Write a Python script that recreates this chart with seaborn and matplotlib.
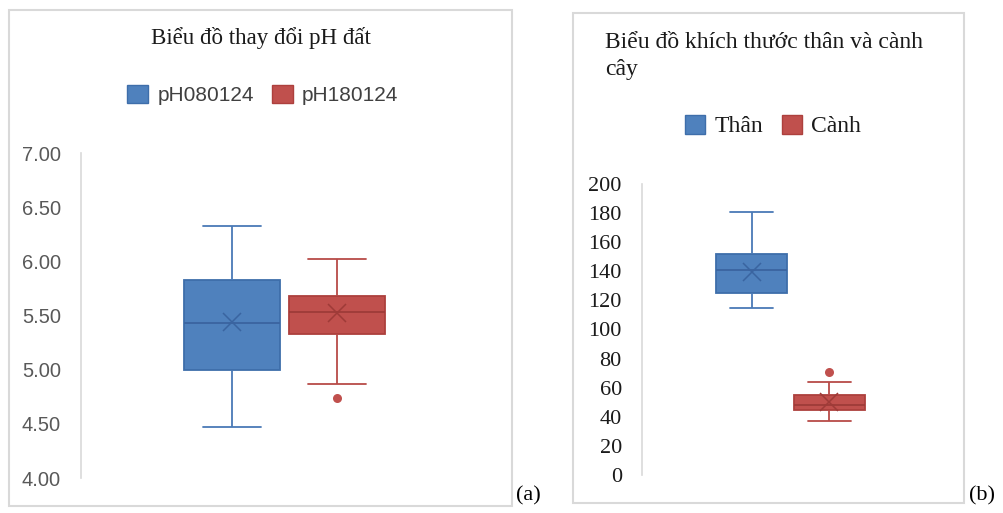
import numpy as np
import pandas as pd
import matplotlib
matplotlib.use("Agg")
import matplotlib.pyplot as plt
import seaborn as sns
from matplotlib.patches import Patch, Rectangle

# ---------------- data ----------------
ph_series = ["pH080124", "pH180124"]
ph080124 = [4.47, 4.80, 5.00, 5.25, 5.43, 5.70, 5.83, 6.15, 6.33]
ph180124 = [4.74, 4.87, 5.30, 5.33, 5.50, 5.52, 5.53, 5.65, 5.67, 5.68, 5.98, 6.00, 6.02]
ph_ticks = [4.00, 4.50, 5.00, 5.50, 6.00, 6.50, 7.00]

size_series = ["Thân", "Cành"]
than = [115, 116, 125, 126, 141, 142, 152, 157, 181]
canh = [37, 40, 43, 45, 45.5, 47, 48, 49, 52, 55, 57, 64, 71]
size_ticks = list(range(0, 201, 20))

title_a = "Biểu đồ thay đổi pH đất"
title_b = "Biểu đồ khích thước thân và cành\ncây"

# ---------------- style ----------------
sns.set_style("white")
plt.rcParams["font.family"] = ["Liberation Sans", "DejaVu Sans"]

FILL = ["#4F81BD", "#C0504D"]
EDGE = ["#3E6EAA", "#AD403D"]
LINE = ["#4A7AB6", "#B84B48"]
MED = ["#3A64A0", "#9E3B38"]
SERIF = ["Liberation Serif", "DejaVu Serif"]
SANS = ["Liberation Sans", "DejaVu Sans"]

W, H = 1004, 513
fig = plt.figure(figsize=(W / 100, H / 100), dpi=100)


def fx(px):
    return px / W


def fy(py):
    return (H - py) / H


def make_df(names, arrays):
    rows = []
    for n, arr in zip(names, arrays):
        for v in arr:
            rows.append({"g": "", "series": n, "value": v})
    return pd.DataFrame(rows)


def draw_box(ax, df, names, lw=1.3, capfrac=0.3):
    sns.boxplot(data=df, x="g", y="value", hue="series", hue_order=names,
                palette=FILL, width=0.8, gap=0.09, linewidth=lw,
                showmeans=True, whis=1.5,
                meanprops=dict(marker="x", markersize=13, markeredgewidth=1.1),
                flierprops=dict(marker="o", markersize=6.5, markeredgewidth=0),
                legend=False, ax=ax)
    for i, cont in enumerate(ax.containers):
        for b in cont.boxes:
            b.set_facecolor(FILL[i])
            b.set_edgecolor(EDGE[i])
            b.set_linewidth(lw)
        for ln in cont.whiskers:
            ln.set_color(LINE[i])
            ln.set_linewidth(lw)
        for ln in cont.caps:
            ln.set_color(LINE[i])
            ln.set_linewidth(lw)
            xd = np.asarray(ln.get_xdata(), dtype=float)
            c = xd.mean()
            half = 0.4 * (1 - 0.09) * capfrac
            ln.set_xdata([c - half, c + half])
        for ln in cont.medians:
            ln.set_color(MED[i])
            ln.set_linewidth(lw)
        for ln in cont.fliers:
            ln.set_markerfacecolor(FILL[i])
            ln.set_markeredgecolor(FILL[i])
        for ln in cont.means:
            ln.set_markeredgecolor(MED[i])
            ln.set_markerfacecolor(MED[i])
    for s in ["top", "right", "bottom"]:
        ax.spines[s].set_visible(False)
    ax.spines["left"].set_color("#D9D9D9")
    ax.spines["left"].set_linewidth(1.2)
    ax.set_xticks([])
    ax.set_xlabel("")
    ax.set_ylabel("")
    ax.tick_params(left=False, bottom=False)
    ax.patch.set_alpha(0)


# ---------------- panel borders ----------------
for (x0, y0, x1, y1) in [(9, 10, 512, 506), (573, 13, 964, 503)]:
    fig.patches.append(Rectangle((fx(x0), fy(y1)), fx(x1 - x0), (y1 - y0) / H,
                                 transform=fig.transFigure, fill=False,
                                 edgecolor="#D9D9D9", linewidth=1.5, zorder=0))

# ---------------- panel (a) ----------------
ax_a = fig.add_axes([fx(81), fy(478), fx(488 - 81), (478 - 153) / H])
draw_box(ax_a, make_df(ph_series, [ph080124, ph180124]), ph_series)
ax_a.set_xlim(-0.775, 0.775)
ax_a.set_ylim(4.0, 7.0)
ax_a.set_yticks(ph_ticks)
ax_a.set_yticklabels([f"{t:.2f}" for t in ph_ticks])
for lab in ax_a.get_yticklabels():
    lab.set_fontfamily(SANS)
    lab.set_fontsize(14.5)
    lab.set_color("#595959")
ax_a.tick_params(pad=11)

fig.text(fx(261), fy(38), title_a, ha="center", va="center",
         fontsize=16.5, family=SERIF, color="#1A1A1A")
handles_a = [Patch(facecolor=FILL[i], edgecolor=EDGE[i], label=ph_series[i]) for i in range(2)]
fig.legend(handles=handles_a, loc="center", bbox_to_anchor=(fx(263), fy(95)),
           ncol=2, frameon=False, prop={"family": SANS, "size": 15},
           handlelength=1.0, handleheight=1.0, handletextpad=0.45,
           columnspacing=0.85, labelcolor="#404040")

# ---------------- panel (b) ----------------
ax_b = fig.add_axes([fx(642), fy(475), fx(939 - 642), (475 - 184) / H])
draw_box(ax_b, make_df(size_series, [than, canh]), size_series)
ax_b.set_xlim(-0.764, 0.764)
ax_b.set_ylim(0, 200)
ax_b.set_yticks(size_ticks)
ax_b.set_yticklabels([str(t) for t in size_ticks])
for lab in ax_b.get_yticklabels():
    lab.set_fontfamily(SERIF)
    lab.set_fontsize(16)
    lab.set_color("#1A1A1A")
ax_b.tick_params(pad=11)

fig.text(fx(605), fy(56), title_b, ha="left", va="center", linespacing=1.4,
         fontsize=17, family=SERIF, color="#1A1A1A")
handles_b = [Patch(facecolor=FILL[i], edgecolor=EDGE[i], label=size_series[i]) for i in range(2)]
fig.legend(handles=handles_b, loc="center", bbox_to_anchor=(fx(773), fy(126)),
           ncol=2, frameon=False, prop={"family": SERIF, "size": 17},
           handlelength=0.85, handleheight=0.85, handletextpad=0.4,
           columnspacing=0.8, labelcolor="#1A1A1A")

# ---------------- panel labels ----------------
fig.text(fx(516), fy(496), "(a)", ha="left", va="center", fontsize=16, family=SERIF, color="black")
fig.text(fx(969), fy(496), "(b)", ha="left", va="center", fontsize=16, family=SERIF, color="black")

fig.savefig("out.png", dpi=100, facecolor="white")
